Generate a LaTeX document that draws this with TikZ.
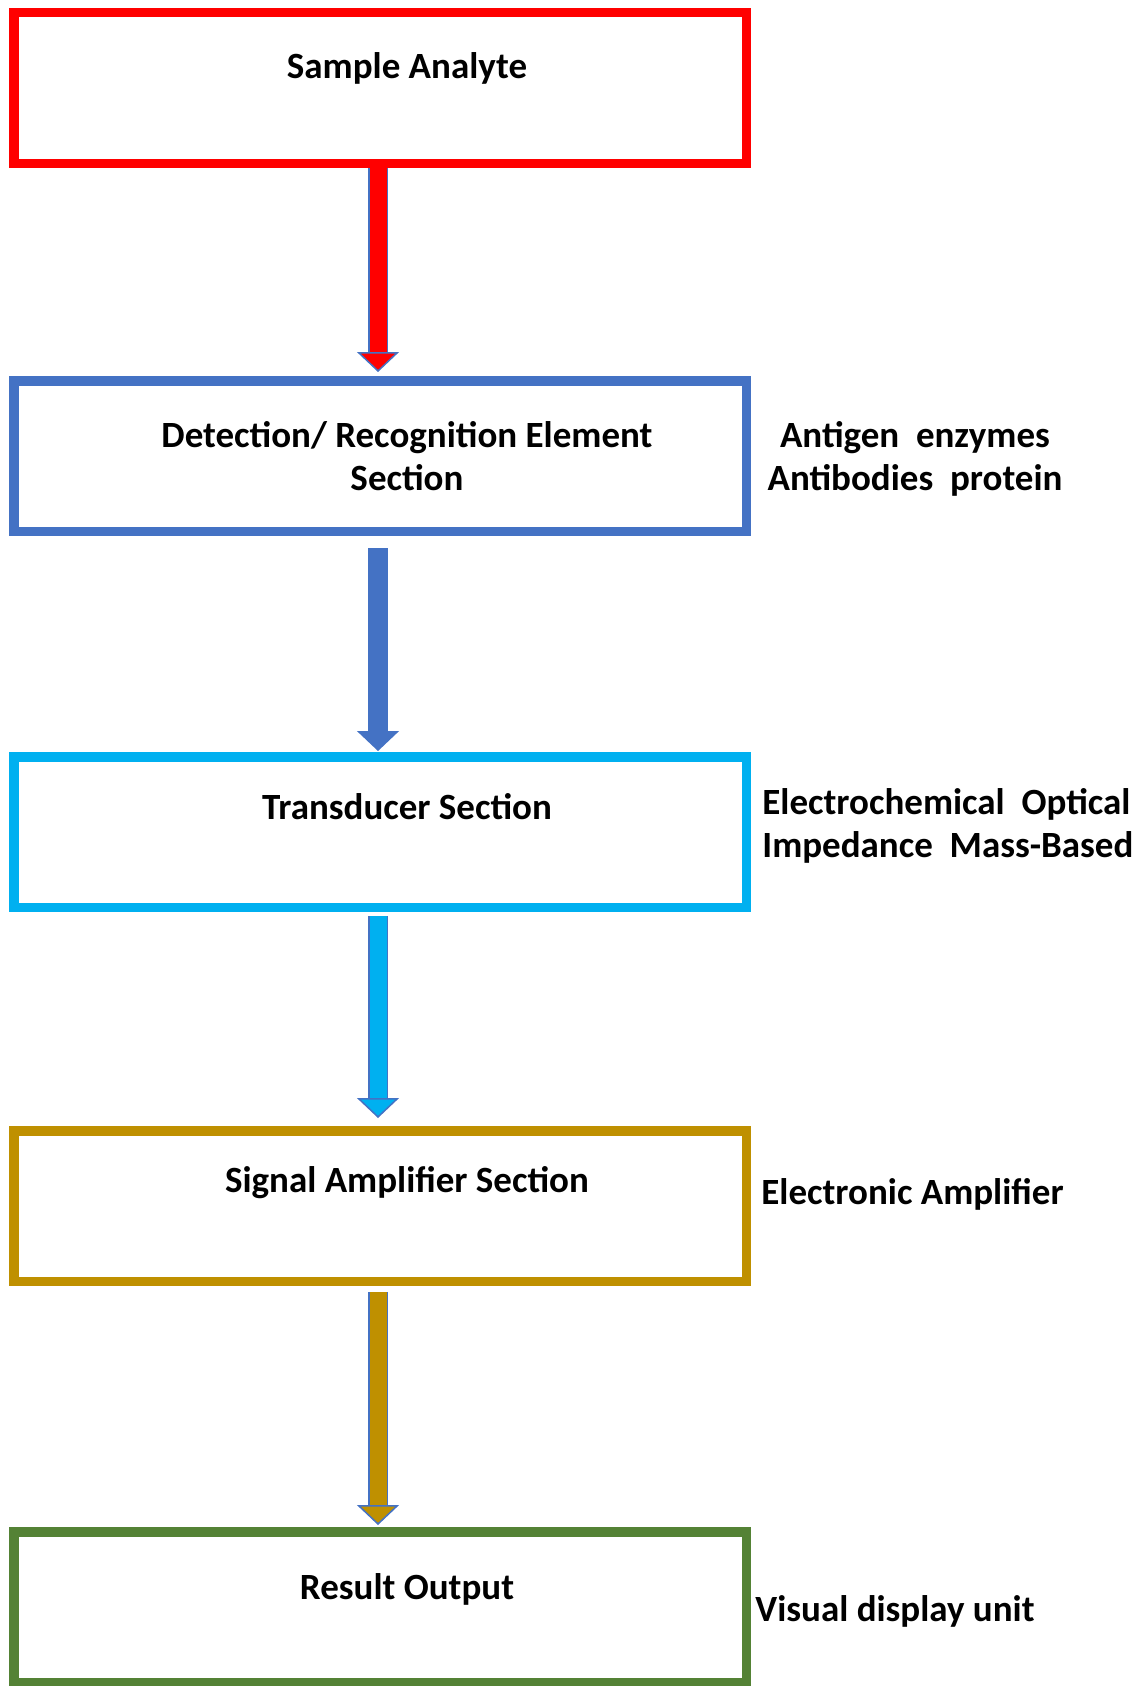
\documentclass[tikz,border=0pt]{standalone}
\usepackage{fontspec}
\setmainfont{Carlito}
\definecolor{SampleRed}{HTML}{FF0000}
\definecolor{DetectBlue}{HTML}{4472C4}
\definecolor{TransCyan}{HTML}{00B0F0}
\definecolor{AmpGold}{HTML}{BF9000}
\definecolor{OutputGreen}{HTML}{548235}
\definecolor{ArrowEdge}{HTML}{4472C4}
\usetikzlibrary{arrows.meta, positioning, calc}
\tikzset{
  % Box styles
  sectionbox/.style={rectangle, draw=#1, line width=4.75pt, minimum width=366.25pt, minimum height=75.25pt, inner sep=0pt},
  boxtext/.style={font=\bfseries\fontsize{18.5}{21.5}\selectfont, align=center, inner sep=0pt},
  sidetext/.style={font=\bfseries\fontsize{18.5}{21.5}\selectfont, inner sep=0pt},
  % Arrow styles
  blockarrow/.style={line width=8.5pt, draw=#1,
    -{Triangle[width=21pt, length=10pt, line width=0.75pt, color=ArrowEdge, fill=#1]},
    preaction={draw=ArrowEdge, line width=10pt, -, shorten >=9pt}}
}
\begin{document}
\begin{tikzpicture}[x=0.5pt, y=-0.5pt]
  \useasboundingbox (0,0) rectangle (1144,1686);

  % Boxes
  \node[sectionbox=SampleRed] (sample) at (380,88) {};
  \node[sectionbox=DetectBlue] (detect) at (380,456) {};
  \node[sectionbox=TransCyan] (trans) at (380,832) {};
  \node[sectionbox=AmpGold] (amp) at (380,1206) {};
  \node[sectionbox=OutputGreen] (result) at (380,1607) {};

  % Box texts
  \node[boxtext, anchor=base] (sampletxt) at (407,79) {Sample Analyte};
  \node[boxtext, anchor=base] (detecttxt) at (407,490) {Detection/ Recognition Element\\Section};
  \node[boxtext, anchor=base] (transtxt) at (407,819) {Transducer Section};
  \node[boxtext, anchor=base] (amptxt) at (407,1192) {Signal Amplifier Section};
  \node[boxtext, anchor=base] (resulttxt) at (407,1599) {Result Output};

  % Side labels
  \node[sidetext, align=center, anchor=base] (detectside) at (915,490) {Antigen\ \ enzymes\\Antibodies\ \ protein};
  \node[sidetext, align=left, anchor=base west] (transside) at (762,857) {Electrochemical\ \ Optical\\Impedance\ \ Mass-Based};
  \node[sidetext, anchor=base west] (ampside) at (761,1204) {Electronic Amplifier};
  \node[sidetext, anchor=base west] (resultside) at (755,1621) {Visual display unit};

  % Arrows
  \draw[blockarrow=SampleRed] ([xshift=-1pt]sample.south) -- ([xshift=-1pt, yshift=2pt]detect.north);
  \draw[blockarrow=DetectBlue, shorten <=6pt] ([xshift=-1pt]detect.south) -- ([xshift=-1pt, yshift=0.5pt]trans.north);
  \draw[blockarrow=TransCyan, shorten <=2pt] ([xshift=-1pt]trans.south) -- ([xshift=-1pt, yshift=4pt]amp.north);
  \draw[blockarrow=AmpGold, shorten <=3pt] ([xshift=-1pt]amp.south) -- ([xshift=-1pt, yshift=1pt]result.north);
\end{tikzpicture}
\end{document}
